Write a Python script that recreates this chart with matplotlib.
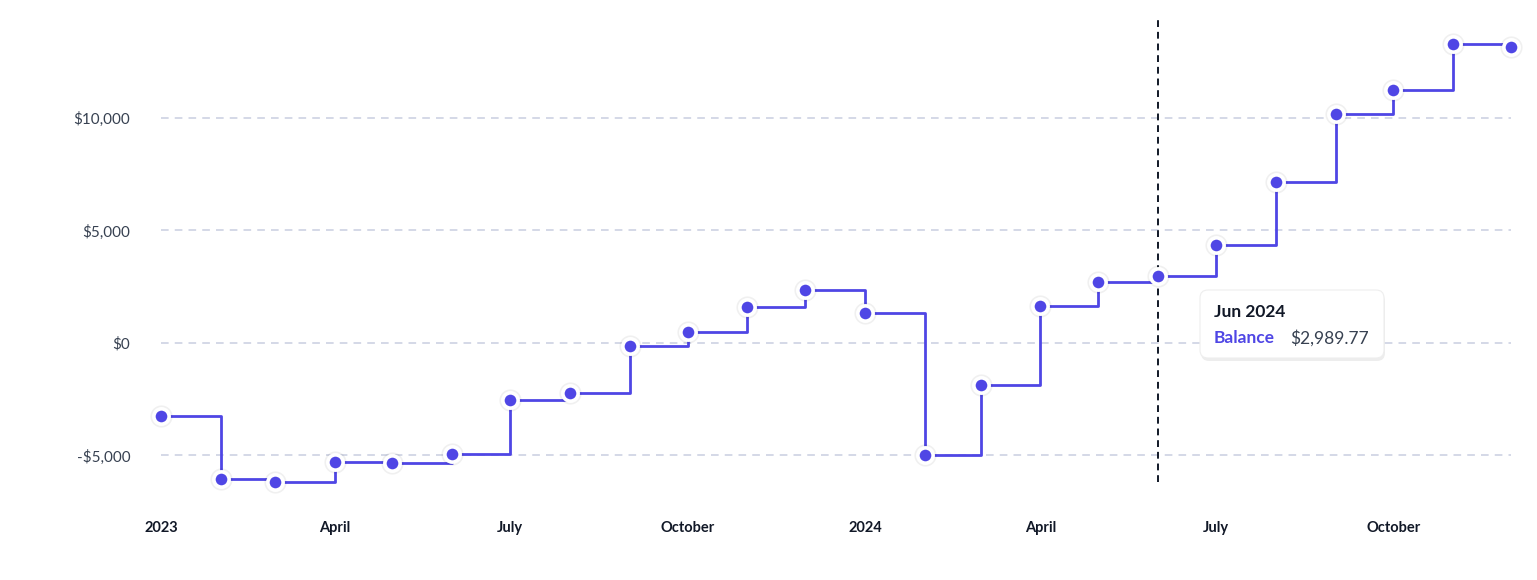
import numpy as np
import pandas as pd
import matplotlib
matplotlib.use("Agg")
import matplotlib.pyplot as plt
import matplotlib.dates as mdates
from matplotlib.patches import FancyBboxPatch
from matplotlib.ticker import FuncFormatter

# monthly balances, Jan 2023 .. Dec 2024
months = pd.date_range("2023-01-01", "2024-12-01", freq="MS")
balance = [-3250, -6050, -6180, -5290, -5330, -4930, -2530, -2220, -130, 490, 1600, 2360,
           1330, -4980, -1870, 1640, 2710, 2989.77, 4360, 7160, 10180, 11240, 13290, 13160]
y_ticks = [-5000, 0, 5000, 10000]
x_ticks = ["2023-01-01", "2023-04-01", "2023-07-01", "2023-10-01",
           "2024-01-01", "2024-04-01", "2024-07-01", "2024-10-01"]
x_labels = ["2023", "April", "July", "October", "2024", "April", "July", "October"]
hover = 17  # Jun 2024

LINE = "#4f46e5"
GRID = "#c9cee0"
FONT = ["Lato", "DejaVu Sans"]

W, H = 1537, 580
fig = plt.figure(figsize=(W / 100, H / 100), dpi=100)
ax = fig.add_axes([161 / W, (H - 482) / H, (1511 - 161) / W, (482 - 18) / H])

ax.set_xlim(months[0], months[-1])
ax.set_ylim(-6178, 14444)

for yv in y_ticks:
    ax.axhline(yv, color=GRID, lw=1.1, ls=(0, (5, 4)), zorder=1)

ax.step(months, balance, where="post", color=LINE, lw=2, zorder=3, clip_on=False)
# soft shadow under markers
ax.plot(months, balance, "o", ms=16, color="#000000", alpha=0.06, mec="none", zorder=4, clip_on=False)
ax.plot(months, balance, "o", ms=11, color=LINE, mec="white", mew=2.6, zorder=5, clip_on=False)

ax.axvline(months[hover], color="#111827", lw=1.4, ls=(0, (3.5, 2.5)), zorder=2)

for s in ax.spines.values():
    s.set_visible(False)
ax.set_yticks(y_ticks)
ax.yaxis.set_major_formatter(FuncFormatter(lambda v, p: f"${v:,.0f}" if v >= 0 else f"-${-v:,.0f}"))
ax.set_xticks(pd.to_datetime(x_ticks))
ax.set_xticklabels(x_labels)
ax.tick_params(length=0)
ax.tick_params(axis="y", pad=22, labelsize=11, labelcolor="#374151")
ax.tick_params(axis="x", pad=28, labelsize=10.5, labelcolor="#111827")
for t in ax.get_yticklabels():
    t.set_family(FONT)
for t in ax.get_xticklabels():
    t.set_family(FONT)
    t.set_fontweight("bold")

# tooltip
bx, by, bw, bh = 1200, 290, 184, 68
shadow = FancyBboxPatch((bx + 1, H - by - bh - 3), bw, bh, boxstyle="round,pad=0,rounding_size=8",
                        transform=None, fc="#000000", ec="none", alpha=0.07, zorder=8)
box = FancyBboxPatch((bx, H - by - bh), bw, bh, boxstyle="round,pad=0,rounding_size=8",
                     transform=None, fc="white", ec="#eeeeee", lw=0.8, zorder=9)
fig.add_artist(shadow)
fig.add_artist(box)
fig.text((bx + 14) / W, (H - 312) / H, months[hover].strftime("%b %Y"), family=FONT,
         fontsize=12.5, fontweight="bold", color="#111827", va="center", zorder=10)
fig.text((bx + 14) / W, (H - 338) / H, "Balance", family=FONT, fontsize=12.5,
         fontweight="bold", color=LINE, va="center", zorder=10)
fig.text((bx + 90) / W, (H - 338) / H, f"${balance[hover]:,.2f}", family=FONT, fontsize=12.5,
         color="#374151", va="center", zorder=10)

fig.savefig("out.png", dpi=100, facecolor="white")
